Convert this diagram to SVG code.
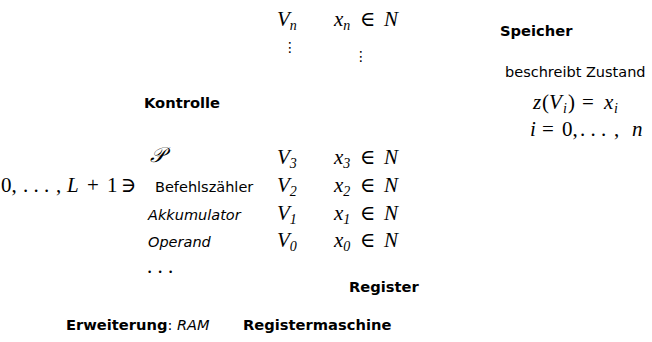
<svg xmlns="http://www.w3.org/2000/svg" width="652" height="342" viewBox="0 0 652 342">
<style>
  text { fill: #000; }
  .s { font-family: "DejaVu Sans", "Liberation Sans", sans-serif; font-size: 14.5px; }
  .b { font-family: "DejaVu Sans", "Liberation Sans", sans-serif; font-size: 14.7px; font-weight: bold; }
  .si { font-family: "DejaVu Sans", "Liberation Sans", sans-serif; font-size: 14.5px; font-style: italic; }
  .m { font-family: "Liberation Serif", "DejaVu Serif", serif; font-size: 21px; font-style: italic; }
  .u { font-style: normal; }
  .sub { font-size: 14px; }
  .dots { font-family: "DejaVu Sans", sans-serif; font-size: 14px; }
</style>
<rect width="652" height="342" fill="#fff"/>

<!-- memory cells: register name and content -->
<g id="row-n">
  <text class="m" x="277" y="26">V<tspan class="sub" dy="4">n</tspan></text>
  <text class="m" x="334" y="26">x<tspan class="sub" dy="4">n</tspan></text>
  <text class="m u" x="360" y="26">∈</text>
  <text class="m" x="384" y="26">N</text>
</g>
<g id="row-dots">
  <text class="dots" x="283" y="52">⋮</text>
  <text class="dots" x="354" y="61">⋮</text>
</g>
<g id="row-3">
  <text class="m" x="277" y="164">V<tspan class="sub" dy="4">3</tspan></text>
  <text class="m" x="334" y="164">x<tspan class="sub" dy="4">3</tspan></text>
  <text class="m u" x="360" y="164">∈</text>
  <text class="m" x="384" y="164">N</text>
</g>
<g id="row-2">
  <text class="m" x="277" y="192">V<tspan class="sub" dy="4">2</tspan></text>
  <text class="m" x="334" y="192">x<tspan class="sub" dy="4">2</tspan></text>
  <text class="m u" x="360" y="192">∈</text>
  <text class="m" x="384" y="192">N</text>
</g>
<g id="row-1">
  <text class="m" x="277" y="220">V<tspan class="sub" dy="4">1</tspan></text>
  <text class="m" x="334" y="220">x<tspan class="sub" dy="4">1</tspan></text>
  <text class="m u" x="360" y="220">∈</text>
  <text class="m" x="384" y="220">N</text>
</g>
<g id="row-0">
  <text class="m" x="277" y="247">V<tspan class="sub" dy="4">0</tspan></text>
  <text class="m" x="334" y="247">x<tspan class="sub" dy="4">0</tspan></text>
  <text class="m u" x="360" y="247">∈</text>
  <text class="m" x="384" y="247">N</text>
</g>

<!-- control unit -->
<g id="kontrolle">
  <text class="b" x="144" y="108">Kontrolle</text>
</g>
<g id="programm">
  <text class="m" x="150" y="162">𝒫</text>
</g>
<g id="befehlszaehler">
  <text class="m"><tspan class="u" x="1" y="192">0,</tspan><tspan class="u" x="23" y="192">. . .</tspan><tspan class="u" x="56" y="192">,</tspan><tspan x="67" y="192">L</tspan><tspan class="u" x="87" y="192">+</tspan><tspan class="u" x="107" y="192">1</tspan><tspan class="u" x="121" y="192">∋</tspan></text>
  <text class="s" x="155" y="192">Befehlszähler</text>
</g>
<g id="akkumulator">
  <text class="si" x="148" y="220">Akkumulator</text>
</g>
<g id="operand">
  <text class="si" x="148" y="247">Operand</text>
</g>
<g id="weitere">
  <text class="m u" x="147" y="273">. . .</text>
</g>

<!-- memory description -->
<g id="speicher">
  <text class="b" x="500" y="36">Speicher</text>
  <text class="s" x="505" y="77">beschreibt Zustand</text>
  <text class="m"><tspan x="533" y="109">z</tspan><tspan class="u" x="542" y="109">(</tspan><tspan x="549" y="109">V</tspan><tspan class="sub" x="563" y="113">i</tspan><tspan class="u" x="568" y="109">)</tspan><tspan class="u" x="582" y="109">=</tspan><tspan x="604" y="109">x</tspan><tspan class="sub" x="614" y="113">i</tspan></text>
  <text class="m"><tspan x="530" y="136">i</tspan><tspan class="u" x="542" y="136">=</tspan><tspan class="u" x="562" y="136">0,</tspan><tspan class="u" x="580" y="136">. . .</tspan><tspan class="u" x="614" y="136">,</tspan><tspan x="632" y="136">n</tspan></text>
</g>

<!-- captions -->
<g id="register">
  <text class="b" x="349" y="292">Register</text>
</g>
<g id="erweiterung">
  <text x="66" y="330"><tspan class="b">Erweiterung</tspan><tspan class="s">: </tspan><tspan class="si">RAM</tspan></text>
</g>
<g id="registermaschine">
  <text class="b" x="243" y="330">Registermaschine</text>
</g>
</svg>
